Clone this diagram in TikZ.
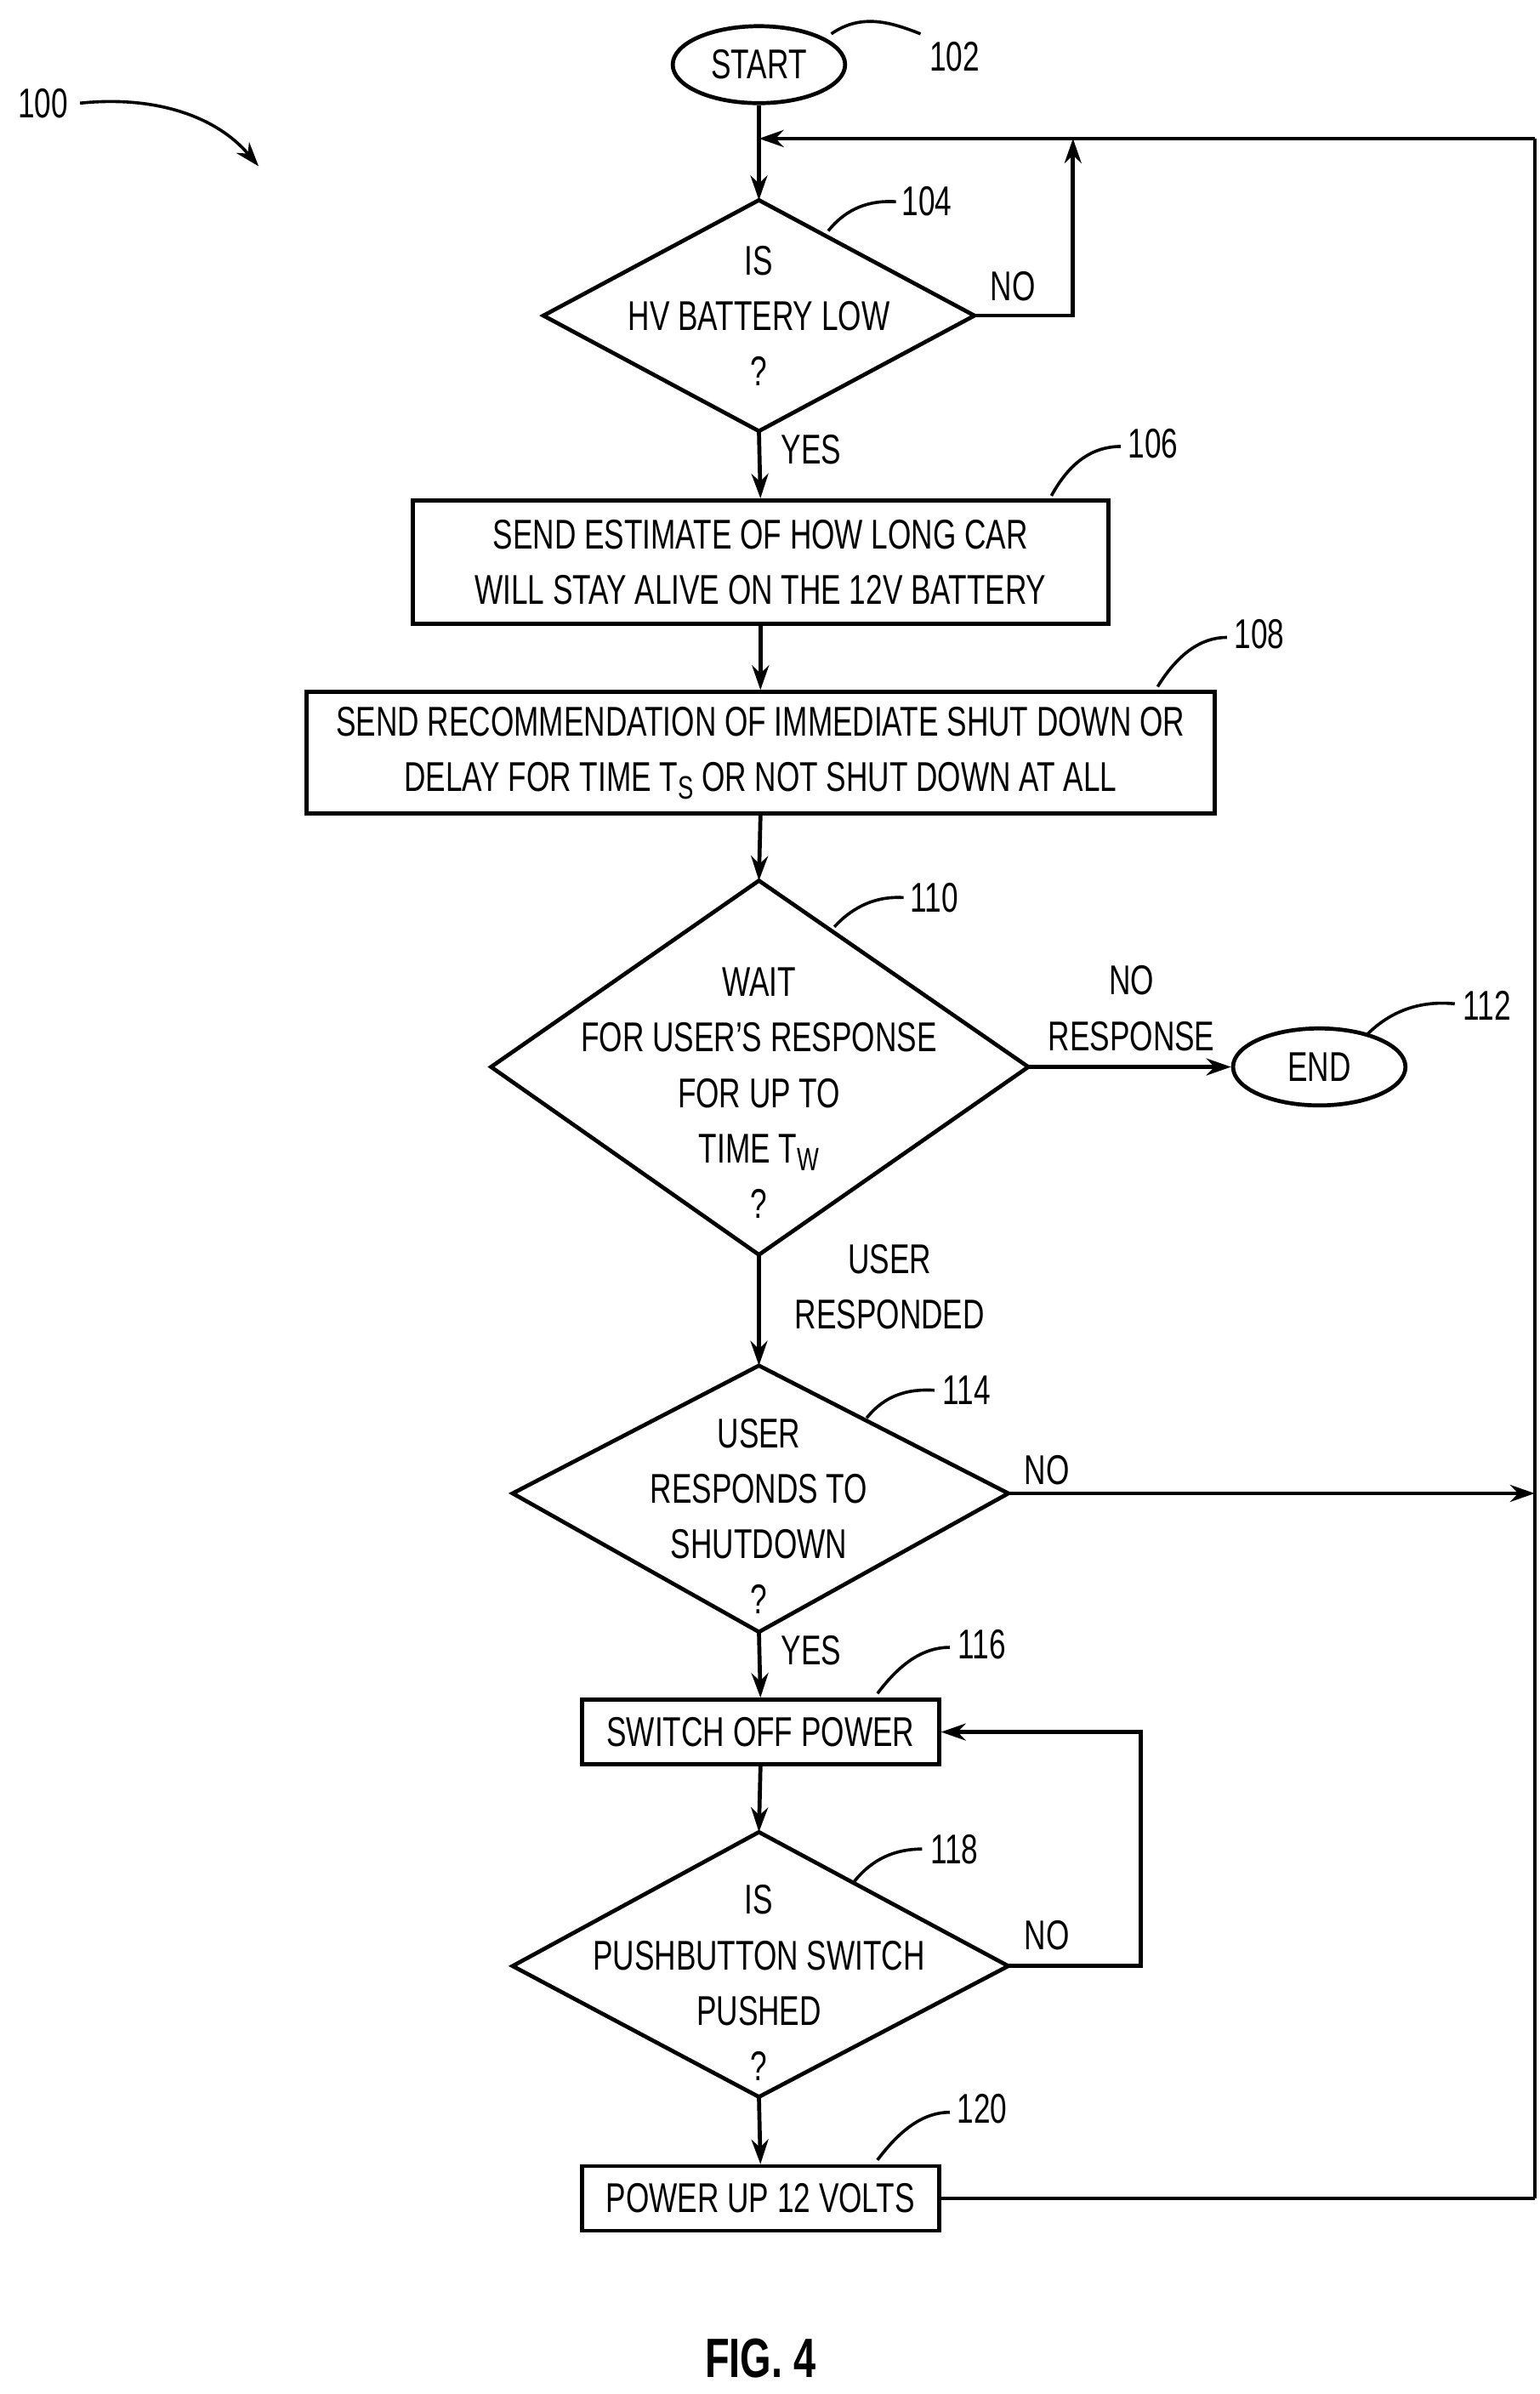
\documentclass[tikz,border=0pt]{standalone}
\usepackage{fontspec}
\setmainfont[FakeStretch=0.72]{Liberation Sans}
\usetikzlibrary{shapes.geometric,arrows.meta}
\begin{document}
\begin{tikzpicture}[x=1pt,y=-1pt,line width=2.6pt,
  every node/.style={font=\fontsize{27}{36}\selectfont,align=center,inner sep=0pt},
  box/.style={draw,rectangle},
  oval/.style={draw,ellipse,minimum width=112pt,minimum height=50pt},
  arr/.style={-{Stealth[length=16pt,width=11pt]}},
  lead/.style={line width=2pt}]
\useasboundingbox (0,0) rectangle (1000,1555);
% START
\node[oval] (start) at (493,42) {START};
\node (l102) at (620,37) {102};
\draw[lead] (540,22) .. controls (560,8) and (580,15) .. (598,22);
\node (l100) at (28,67) {100};
\draw[lead,arr] (52,67) .. controls (100,62) and (140,75) .. (168,108);
% 104
\coordinate (d104t) at (493,130); \coordinate (d104b) at (493,280);
\coordinate (d104l) at (353,205); \coordinate (d104r) at (633,205);
\draw (d104t) -- (d104r) -- (d104b) -- (d104l) -- cycle;
\node (t104) at (493,205) {IS\\HV BATTERY LOW\\?};
\node (l104) at (602,131) {104};
\draw[lead] (538,150) .. controls (550,135) and (565,130) .. (582,131);
\coordinate (join) at (493,90);
\coordinate (ra) at (997,90);
\coordinate (rb) at (997,1428);
\draw[arr] (start.south) -- (d104t);
\draw[arr] (ra) -- (join);
\draw (ra) -- (rb);
\coordinate (n104) at (697,205);
\draw[arr] (d104r) -- (n104) -- (697,90);
\node at (658,186) {NO};
\node at (527,292) {YES};
% 106
\node[box,minimum width=452pt,minimum height=80pt] (b106) at (494,365) {SEND ESTIMATE OF HOW LONG CAR\\WILL STAY ALIVE ON THE 12V BATTERY};
\draw[arr] (d104b) -- (b106.north);
\node (l106) at (749,288) {106};
\draw[lead] (683,322) .. controls (695,300) and (710,290) .. (728,290);
% 108
\node[box,minimum width=590pt,minimum height=79pt] (b108) at (494,489) {SEND RECOMMENDATION OF IMMEDIATE SHUT DOWN OR\\DELAY FOR TIME T\raisebox{-5pt}{\fontsize{21}{24}\selectfont S} OR NOT SHUT DOWN AT ALL};
\draw[arr] (b106.south) -- (b108.north);
\node (l108) at (818,412) {108};
\draw[lead] (752,446) .. controls (765,425) and (780,414) .. (797,414);
% 110
\coordinate (d110t) at (493,572); \coordinate (d110b) at (493,815);
\coordinate (d110l) at (319,693); \coordinate (d110r) at (668,693);
\draw (d110t) -- (d110r) -- (d110b) -- (d110l) -- cycle;
\node at (493,710) {WAIT\\FOR USER'S RESPONSE\\FOR UP TO\\TIME T\raisebox{-5pt}{\fontsize{21}{24}\selectfont W}\\?};
\draw[arr] (b108.south) -- (d110t);
\node (l110) at (607,583) {110};
\draw[lead] (542,602) .. controls (555,588) and (570,582) .. (587,583);
\node[oval] (end) at (857,693) {END};
\draw[arr] (d110r) -- (end.west);
\node at (735,655) {NO\\RESPONSE};
\node (l112) at (966,653) {112};
\draw[lead] (888,672) .. controls (905,655) and (925,650) .. (945,652);
\node at (578,836) {USER\\RESPONDED};
% 114
\coordinate (d114t) at (493,887); \coordinate (d114b) at (493,1060);
\coordinate (d114l) at (333,970); \coordinate (d114r) at (655,970);
\draw (d114t) -- (d114r) -- (d114b) -- (d114l) -- cycle;
\node at (493,985) {USER\\RESPONDS TO\\SHUTDOWN\\?};
\draw[arr] (d110b) -- (d114t);
\node (l114) at (628,903) {114};
\draw[lead] (563,921) .. controls (575,906) and (590,902) .. (607,903);
\draw[arr] (d114r) -- (997,970);
\node at (680,955) {NO};
\node at (527,1072) {YES};
% 116
\node[box,minimum width=232pt,minimum height=42pt] (b116) at (494,1125) {SWITCH OFF POWER};
\draw[arr] (d114b) -- (b116.north);
\node (l116) at (638,1068) {116};
\draw[lead] (570,1100) .. controls (585,1080) and (600,1070) .. (617,1070);
% 118
\coordinate (d118t) at (493,1190); \coordinate (d118b) at (493,1362);
\coordinate (d118l) at (333,1277); \coordinate (d118r) at (655,1277);
\draw (d118t) -- (d118r) -- (d118b) -- (d118l) -- cycle;
\node at (493,1288) {IS\\PUSHBUTTON SWITCH\\PUSHED\\?};
\draw[arr] (b116.south) -- (d118t);
\node (l118) at (620,1201) {118};
\draw[lead] (555,1222) .. controls (567,1207) and (582,1201) .. (599,1201);
\draw[arr] (d118r) -- (741,1277) -- (741,1125) -- (b116.east);
\node at (680,1257) {NO};
% 120
\node[box,minimum width=232pt,minimum height=42pt] (b120) at (494,1428) {POWER UP 12 VOLTS};
\draw[arr] (d118b) -- (b120.north);
\node (l120) at (638,1370) {120};
\draw[lead] (570,1403) .. controls (585,1383) and (600,1372) .. (617,1372);
\draw (b120.east) -- (rb);
\node[font=\fontsize{36}{40}\selectfont\bfseries] at (494,1532) {FIG. 4};
\end{tikzpicture}
\end{document}
